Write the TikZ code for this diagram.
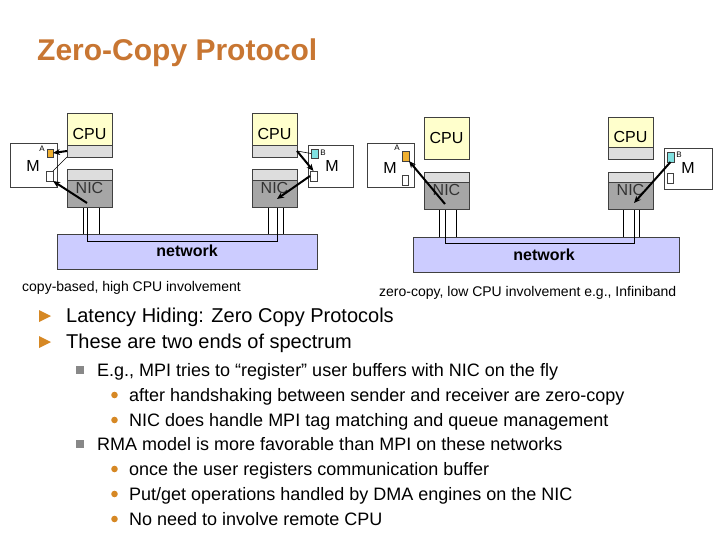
\documentclass[tikz,border=0pt]{standalone}
\usepackage{fontspec}
\setmainfont{Liberation Sans}
\usetikzlibrary{arrows.meta}
\definecolor{titleC}{RGB}{200,118,50}
\definecolor{cpuC}{RGB}{255,255,204}
\definecolor{stripC}{RGB}{221,221,221}
\definecolor{nicC}{RGB}{166,166,166}
\definecolor{netC}{RGB}{204,204,255}
\definecolor{aC}{RGB}{240,176,48}
\definecolor{bC}{RGB}{128,224,224}
\definecolor{bulC}{RGB}{214,136,36}
\definecolor{sqC}{RGB}{136,136,136}
\tikzset{
  base/.style={inner sep=0pt, outer sep=0pt, draw=black!75, line width=0.6pt},
  cpubox/.style={base, fill=cpuC, anchor=north west},
  stripbox/.style={base, fill=stripC},
  nicbox/.style={base, fill=nicC, anchor=north west},
  mbox/.style={base, fill=white, anchor=north west},
  abox/.style={base, fill=aC, anchor=north west},
  bbox/.style={base, fill=bC, anchor=north west},
  wbox/.style={base, fill=white, anchor=north west},
  netbox/.style={base, fill=netC, anchor=north west},
  lbl/.style={inner sep=0pt, font=\fontsize{16}{18}\selectfont},
  niclbl/.style={inner sep=0pt, font=\fontsize{16}{18}\selectfont, text=black!80},
  tinylbl/.style={inner sep=0pt, font=\fontsize{8}{9}\selectfont},
  netlbl/.style={inner sep=0pt, font=\fontsize{16}{18}\selectfont\bfseries},
  caplbl/.style={inner sep=0pt, anchor=base west, font=\fontsize{14}{16}\selectfont},
  arr/.style={line width=2pt, -{Stealth[length=7pt,width=6pt]}},
  thinln/.style={line width=0.6pt},
  wire/.style={line width=0.8pt},
  t0/.style={inner sep=0pt, anchor=base west, font=\fontsize{20}{24}\selectfont},
  t1/.style={inner sep=0pt, anchor=base west, font=\fontsize{18}{22}\selectfont},
}
\begin{document}
\begin{tikzpicture}[x=1pt,y=-1pt]
\useasboundingbox (0,0) rectangle (720,540);
% title
\node[inner sep=0pt, anchor=base west, text=titleC, font=\fontsize{30}{36}\selectfont\bfseries] (title) at (37,61) {Zero-Copy Protocol};

% ===== left diagram =====
\node[netbox, minimum width=260pt, minimum height=35pt] (net1) at (57,234) {};
\node[netlbl] (net1t) at (187,251) {network};
% wires
\coordinate (n1p) at (87,203);
\coordinate (n2p) at (277,199);
\draw[wire] (83,207) -- (83,234);
\draw[wire] (99,207) -- (99,234);
\draw[wire] (268,207) -- (268,234);
\draw[wire] (283,207) -- (283,234);
\draw[wire] (n1p) -- (87,241) -- (277,241) -- (n2p);
% left node
\node[cpubox, minimum width=45pt, minimum height=44pt] (cpu1) at (67,113) {};
\node[stripbox, minimum width=45pt, minimum height=12pt, anchor=south west] (cs1) at (cpu1.south west) {};
\node[lbl] (cpu1t) at (89.5,134) {CPU};
\node[nicbox, minimum width=45pt, minimum height=38pt] (nic1) at (67,169) {};
\node[stripbox, minimum width=45pt, minimum height=11pt, anchor=north west] (ns1) at (nic1.north west) {};
\node[niclbl] (nic1t) at (89.5,188) {NIC};
\node[mbox, minimum width=47pt, minimum height=44pt] (m1) at (10,143) {};
\node[lbl] (m1t) at (33,166) {M};
\node[abox, minimum width=6pt, minimum height=8pt] (a1) at (47,149) {};
\node[tinylbl] (a1l) at (42,149) {A};
\node[wbox, minimum width=7pt, minimum height=10pt] (s1) at (46,171) {};
% right node
\node[cpubox, minimum width=45pt, minimum height=44pt] (cpu2) at (252,113) {};
\node[stripbox, minimum width=45pt, minimum height=12pt, anchor=south west] (cs2) at (cpu2.south west) {};
\node[lbl] (cpu2t) at (274.5,134) {CPU};
\node[nicbox, minimum width=45pt, minimum height=38pt] (nic2) at (252,169) {};
\node[stripbox, minimum width=45pt, minimum height=11pt, anchor=north west] (ns2) at (nic2.north west) {};
\node[niclbl] (nic2t) at (274.5,188) {NIC};
\node[mbox, minimum width=45pt, minimum height=42pt] (m2) at (308,145) {};
\node[lbl] (m2t) at (332,166) {M};
\node[bbox, minimum width=7pt, minimum height=9pt] (b2) at (311,149) {};
\node[tinylbl] (b2l) at (323,153) {B};
\node[wbox, minimum width=7pt, minimum height=10pt] (s2) at (310,171) {};
% connectors
\draw[arr] (cs1.west) -- (a1.east);
\draw[thinln] (cs1.south west) -- (s1.north east);
\draw[arr] (n1p) -- (s1.south east);
\draw[thinln] (cs2.east) -- (b2.west);
\draw[arr] (cs2.east) -- (s2.north);
\draw[arr] (s2.west) -- (n2p);
\node[caplbl] (cap1) at (22,291) {copy-based, high CPU involvement};

% ===== right diagram =====
\node[netbox, minimum width=266pt, minimum height=35pt] (net2) at (413,237) {};
\node[netlbl] (net2t) at (544,255) {network};
\coordinate (n3p) at (445,204);
\coordinate (n4p) at (634,203);
\draw[wire] (439,209) -- (439,237);
\draw[wire] (456,209) -- (456,237);
\draw[wire] (623,209) -- (623,237);
\draw[wire] (639,209) -- (639,237);
\draw[wire] (n3p) -- (445,243) -- (634,243) -- (n4p);
% left node
\node[cpubox, minimum width=45pt, minimum height=42pt] (cpu3) at (424,117) {};
\node[lbl] (cpu3t) at (446.5,138) {CPU};
\node[nicbox, minimum width=45pt, minimum height=37pt] (nic3) at (424,172) {};
\node[stripbox, minimum width=45pt, minimum height=10pt, anchor=north west] (ns3) at (nic3.north west) {};
\node[niclbl] (nic3t) at (446.5,190) {NIC};
\node[mbox, minimum width=47pt, minimum height=44pt] (m3) at (367,143) {};
\node[lbl] (m3t) at (390,168) {M};
\node[abox, minimum width=7pt, minimum height=10pt] (a3) at (402,151) {};
\node[tinylbl] (a3l) at (397,148) {A};
\node[wbox, minimum width=6pt, minimum height=10pt] (s3) at (402,175) {};
% right node
\node[cpubox, minimum width=45pt, minimum height=42pt] (cpu4) at (608,117) {};
\node[stripbox, minimum width=45pt, minimum height=12pt, anchor=south west] (cs4) at (cpu4.south west) {};
\node[lbl] (cpu4t) at (630.5,137) {CPU};
\node[nicbox, minimum width=45pt, minimum height=37pt] (nic4) at (608,172) {};
\node[stripbox, minimum width=45pt, minimum height=10pt, anchor=north west] (ns4) at (nic4.north west) {};
\node[niclbl] (nic4t) at (630.5,190) {NIC};
\node[mbox, minimum width=48pt, minimum height=41pt] (m4) at (664,148) {};
\node[lbl] (m4t) at (688,168) {M};
\node[bbox, minimum width=7pt, minimum height=10pt] (b4) at (667,152) {};
\node[tinylbl] (b4l) at (679,155) {B};
\node[wbox, minimum width=6pt, minimum height=10pt] (s4) at (667,173) {};
\draw[arr] (n3p) -- (a3.south east);
\draw[arr] (b4.south) -- (n4p);
\node[caplbl] (cap2) at (379,296) {zero-copy, low CPU involvement e.g., Infiniband};

% ===== bullets =====
\fill[bulC] (39,310) -- (51,316) -- (39,322) -- cycle;
\node[t0] (l1) at (66,322) {Latency Hiding: Zero Copy Protocols};
\fill[bulC] (39,336) -- (51,342) -- (39,348) -- cycle;
\node[t0] (l2) at (66,348) {These are two ends of spectrum};

\fill[sqC] (76,366) rectangle (84,374);
\node[t1] (l3) at (97,376) {E.g., MPI tries to “register” user buffers with NIC on the fly};
\fill[bulC] (114.5,395) circle (3.3);
\node[t1] (l4) at (129,401) {after handshaking between sender and receiver are zero-copy};
\fill[bulC] (114.5,420) circle (3.3);
\node[t1] (l5) at (129,426) {NIC does handle MPI tag matching and queue management};
\fill[sqC] (76,440) rectangle (84,448);
\node[t1] (l6) at (97,450) {RMA model is more favorable than MPI on these networks};
\fill[bulC] (114.5,469) circle (3.3);
\node[t1] (l7) at (129,475) {once the user registers communication buffer};
\fill[bulC] (114.5,494) circle (3.3);
\node[t1] (l8) at (129,500) {Put/get operations handled by DMA engines on the NIC};
\fill[bulC] (114.5,519) circle (3.3);
\node[t1] (l9) at (129,525) {No need to involve remote CPU};
\end{tikzpicture}
\end{document}
